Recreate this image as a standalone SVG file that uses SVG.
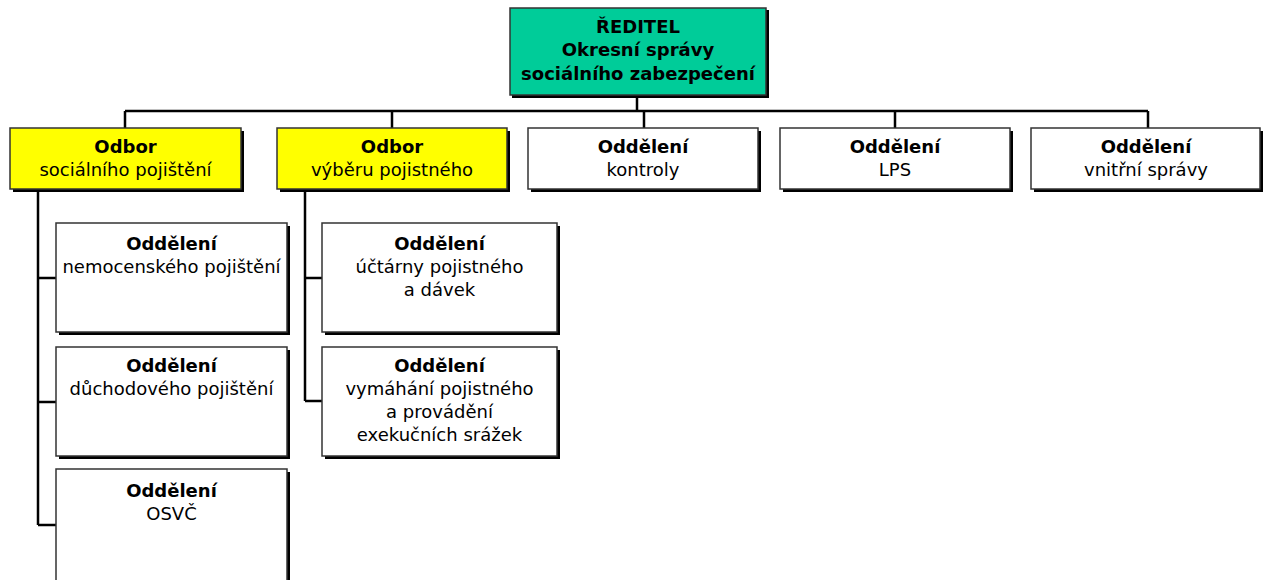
<svg xmlns="http://www.w3.org/2000/svg" width="1266" height="580" viewBox="0 0 1266 580">
<style>
.sh{fill:#000}
.bx{stroke:#333;stroke-width:1.5}
.w{fill:#fff}
.y{fill:#ffff00}
.g{fill:#00cc99}
text{font-family:"DejaVu Sans","Liberation Sans",sans-serif;font-size:18px;fill:#000;text-anchor:middle}
.b{font-weight:bold}
.c{stroke:#000;stroke-width:2.5;fill:none}
</style>
<rect width="1266" height="580" fill="#fff"/>
<g id="connectors">
<path class="c" d="M637 96V111M125 111H1148M125 111V128M392 111V128M644 111V128M895 111V128M1148 111V128"/>
<path class="c" d="M38 189V525M38 278H56M38 402H56M38 525H56"/>
<path class="c" d="M305 189V401M305 278H322M305 401H322"/>
</g>
<g id="reditel">
<rect class="sh" x="512" y="10" width="257" height="88"/>
<rect class="bx g" x="510" y="8" width="256" height="87"/>
<text class="b" x="638" y="33">ŘEDITEL</text>
<text class="b" x="638" y="56">Okresní správy</text>
<text class="b" x="638" y="80">sociálního zabezpečení</text>
</g>
<g id="odbor-socialniho">
<rect class="sh" x="13" y="131" width="231" height="61"/>
<rect class="bx y" x="10" y="128" width="231" height="61"/>
<text class="b" x="125.5" y="153">Odbor</text>
<text x="125.5" y="176">sociálního pojištění</text>
</g>
<g id="odbor-vyberu">
<rect class="sh" x="280" y="131" width="230" height="61"/>
<rect class="bx y" x="277" y="128" width="230" height="61"/>
<text class="b" x="392" y="153">Odbor</text>
<text x="392" y="176">výběru pojistného</text>
</g>
<g id="kontroly">
<rect class="sh" x="531" y="131" width="230" height="61"/>
<rect class="bx w" x="528" y="128" width="230" height="61"/>
<text class="b" x="643" y="153">Oddělení</text>
<text x="643" y="176">kontroly</text>
</g>
<g id="lps">
<rect class="sh" x="783" y="131" width="230" height="61"/>
<rect class="bx w" x="780" y="128" width="230" height="61"/>
<text class="b" x="895" y="153">Oddělení</text>
<text x="895" y="176">LPS</text>
</g>
<g id="vnitrni">
<rect class="sh" x="1034" y="131" width="229" height="61"/>
<rect class="bx w" x="1031" y="128" width="229" height="61"/>
<text class="b" x="1146" y="153">Oddělení</text>
<text x="1146" y="176">vnitřní správy</text>
</g>
<g id="nemocenske">
<rect class="sh" x="59" y="226" width="231" height="109"/>
<rect class="bx w" x="56" y="223" width="231" height="109"/>
<text class="b" x="171.5" y="250">Oddělení</text>
<text x="171.5" y="273">nemocenského pojištění</text>
</g>
<g id="duchodove">
<rect class="sh" x="59" y="350" width="231" height="109"/>
<rect class="bx w" x="56" y="347" width="231" height="109"/>
<text class="b" x="171.5" y="372">Oddělení</text>
<text x="171.5" y="395">důchodového pojištění</text>
</g>
<g id="osvc">
<rect class="sh" x="59" y="472" width="231" height="120"/>
<rect class="bx w" x="56" y="469" width="231" height="120"/>
<text class="b" x="171.5" y="497">Oddělení</text>
<text x="171.5" y="520">OSVČ</text>
</g>
<g id="uctarny">
<rect class="sh" x="325" y="226" width="235" height="109"/>
<rect class="bx w" x="322" y="223" width="235" height="109"/>
<text class="b" x="439.5" y="250">Oddělení</text>
<text x="439.5" y="273">účtárny pojistného</text>
<text x="439.5" y="296">a dávek</text>
</g>
<g id="vymahani">
<rect class="sh" x="325" y="350" width="235" height="109"/>
<rect class="bx w" x="322" y="347" width="235" height="109"/>
<text class="b" x="439.5" y="372">Oddělení</text>
<text x="439.5" y="395">vymáhání pojistného</text>
<text x="439.5" y="418">a provádění</text>
<text x="439.5" y="441">exekučních srážek</text>
</g>
</svg>
